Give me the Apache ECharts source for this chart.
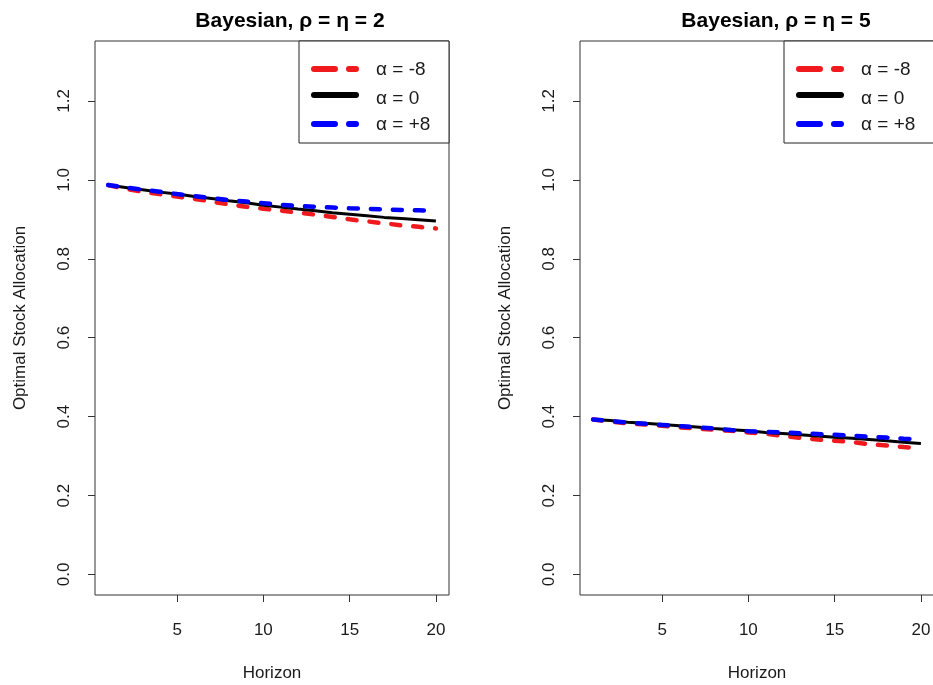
<!DOCTYPE html>
<html>
<head>
<meta charset="utf-8">
<script src="https://cdn.jsdelivr.net/npm/echarts@6/dist/echarts.min.js"></script>
<style>
  html, body { margin: 0; padding: 0; background: #fff; }
  #chart { width: 933px; height: 685px; }
</style>
</head>
<body>
<div id="chart"></div>
<script>
// horizon 1..20
const horizon = [1, 2, 3, 4, 5, 6, 7, 8, 9, 10, 11, 12, 13, 14, 15, 16, 17, 18, 19, 20];

// rho = eta = 2
const leftNeg = [0.987, 0.977, 0.970, 0.964, 0.958, 0.952, 0.945, 0.938, 0.932, 0.927,
                 0.922, 0.917, 0.912, 0.906, 0.900, 0.895, 0.890, 0.885, 0.881, 0.877];
const leftZero = [0.987, 0.981, 0.975, 0.969, 0.964, 0.958, 0.953, 0.947, 0.942, 0.936,
                  0.931, 0.926, 0.922, 0.917, 0.913, 0.909, 0.905, 0.902, 0.899, 0.896];
const leftPos = [0.987, 0.981, 0.975, 0.970, 0.964, 0.959, 0.954, 0.949, 0.945, 0.941,
                 0.937, 0.934, 0.932, 0.930, 0.928, 0.927, 0.925, 0.924, 0.923, 0.922];

// rho = eta = 5
const rightNeg = [0.393, 0.388, 0.383, 0.380, 0.377, 0.373, 0.370, 0.367, 0.364, 0.360,
                  0.357, 0.351, 0.346, 0.342, 0.339, 0.336, 0.330, 0.327, 0.323, 0.320];
const rightZero = [0.393, 0.390, 0.386, 0.383, 0.380, 0.377, 0.374, 0.370, 0.367, 0.364,
                   0.360, 0.357, 0.354, 0.351, 0.348, 0.345, 0.342, 0.339, 0.335, 0.332];
const rightPos = [0.393, 0.389, 0.385, 0.382, 0.379, 0.376, 0.373, 0.370, 0.366, 0.363,
                  0.361, 0.360, 0.358, 0.356, 0.354, 0.352, 0.349, 0.347, 0.344, 0.342];

const yTicks = [0, 0.2, 0.4, 0.6, 0.8, 1.0, 1.2];
const xTicks = [5, 10, 15, 20];
const titles = ["Bayesian, \u03c1 = \u03b7 = 2", "Bayesian, \u03c1 = \u03b7 = 5"];
const legendNames = ["\u03b1 = -8", "\u03b1 = 0", "\u03b1 = +8"];

const RED = "#f01a1e";
const BLUE = "#0000ff";
const INK = "#1a1a1a";
const FONT = "Liberation Sans, Arial, sans-serif";

const grids = [
  { left: 95, top: 41, width: 354, height: 554 },
  { left: 580, top: 41, width: 354, height: 554 }
];
const titleX = [290, 776];

function pairs(ys) {
  return horizon.map((h, i) => [h, ys[i]]);
}

let xAxes = [], yAxes = [], series = [], graphics = [];
const panels = [[leftNeg, leftZero, leftPos], [rightNeg, rightZero, rightPos]];

grids.forEach(function (g, i) {
  xAxes.push({
    type: "value", gridIndex: i, min: 0.24, max: 20.76,
    name: "Horizon", nameLocation: "middle", nameGap: 70,
    nameTextStyle: { fontFamily: FONT, fontSize: 17, color: INK },
    axisLine: { show: false, onZero: false },
    axisTick: { show: true, inside: false, length: 7, customValues: xTicks, lineStyle: { color: "#333" } },
    axisLabel: { customValues: xTicks, margin: 27, fontFamily: FONT, fontSize: 17, color: INK },
    splitLine: { show: false }
  });
  yAxes.push({
    type: "value", gridIndex: i, min: -0.052, max: 1.352,
    name: "Optimal Stock Allocation", nameLocation: "middle", nameGap: 66,
    nameTextStyle: { fontFamily: FONT, fontSize: 17, color: INK },
    axisLine: { show: false, onZero: false },
    axisTick: { show: true, inside: false, length: 7, customValues: yTicks, lineStyle: { color: "#333" } },
    axisLabel: {
      customValues: yTicks, rotate: 90, margin: 22, fontFamily: FONT, fontSize: 17, color: INK,
      formatter: v => v.toFixed(1)
    },
    splitLine: { show: false }
  });

  const d = panels[i];
  series.push({
    type: "line", xAxisIndex: i, yAxisIndex: i, data: pairs(d[0]), symbol: "none",
    lineStyle: { color: RED, width: 4.5, type: [9, 13], cap: "round" }, z: 3
  });
  series.push({
    type: "line", xAxisIndex: i, yAxisIndex: i, data: pairs(d[1]), symbol: "none",
    lineStyle: { color: "#000", width: 3 }, z: 4
  });
  series.push({
    type: "line", xAxisIndex: i, yAxisIndex: i, data: pairs(d[2]), symbol: "none",
    lineStyle: { color: BLUE, width: 4.5, type: [9, 13], cap: "round" }, z: 5
  });

  // title
  graphics.push({
    type: "text", x: titleX[i], y: 21,
    style: { text: titles[i], font: "bold 21px " + FONT, fill: "#000", textAlign: "center", textVerticalAlign: "middle" }
  });

  // legend box, top right of the plot
  const lx = g.left + g.width - 150;
  const ly = g.top;
  graphics.push({
    type: "rect", z: 10,
    shape: { x: lx, y: ly, width: 150, height: 102 },
    style: { fill: "#fff", stroke: "#222", lineWidth: 1 }
  });
  const rowsLine = [69, 95, 124];
  const rowsText = [70, 99, 125];
  const cols = [RED, "#000", BLUE];
  for (let k = 0; k < 3; k++) {
    graphics.push({
      type: "line", z: 11,
      shape: { x1: lx + 15, y1: rowsLine[k], x2: lx + 57, y2: rowsLine[k] },
      style: {
        stroke: cols[k], lineWidth: 6, lineCap: "round",
        lineDash: k === 1 ? null : [21, 14]
      }
    });
    graphics.push({
      type: "text", z: 11, x: lx + 77, y: rowsText[k],
      style: { text: legendNames[k], font: "19px " + FONT, fill: INK, textVerticalAlign: "middle" }
    });
  }
});

const chart = echarts.init(document.getElementById("chart"));
chart.setOption({
  animation: false,
  backgroundColor: "#fff",
  grid: grids.map(g => Object.assign({
    show: true, borderColor: "#333", borderWidth: 1, backgroundColor: "transparent",
    containLabel: false, outerBoundsMode: "none"
  }, g)),
  xAxis: xAxes,
  yAxis: yAxes,
  series: series,
  graphic: graphics
});
</script>
</body>
</html>
